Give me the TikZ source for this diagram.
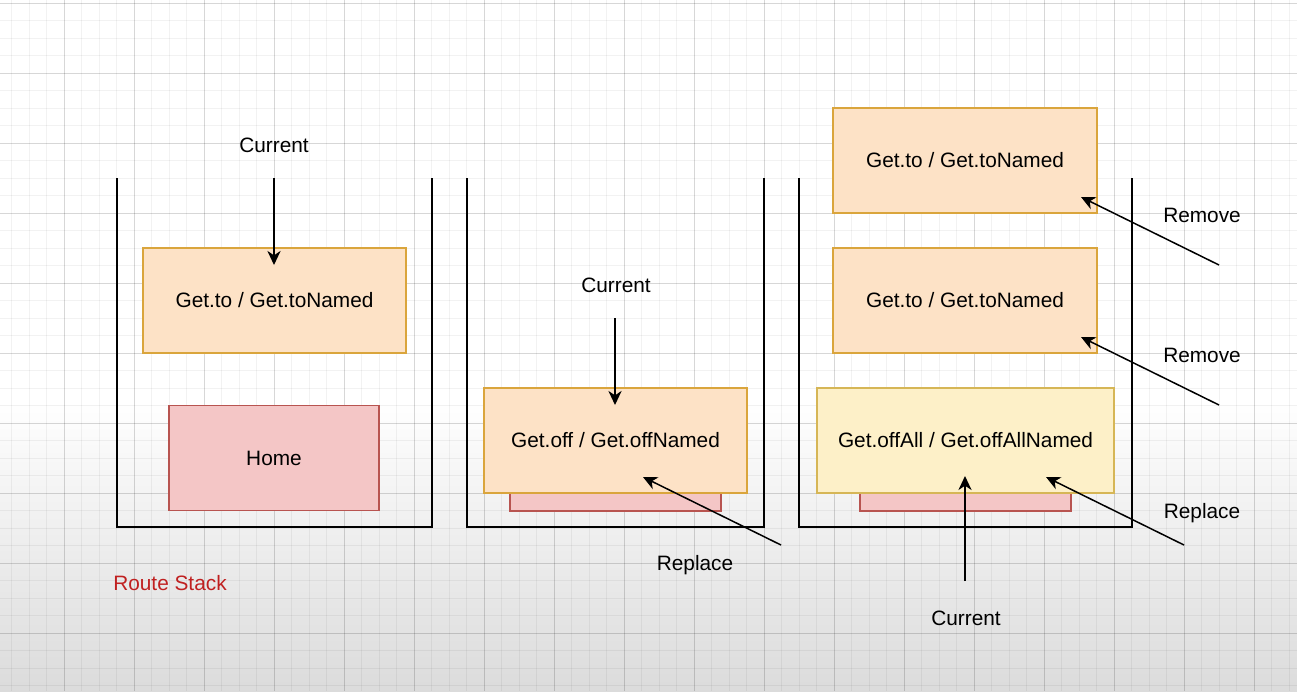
\documentclass[tikz,border=0pt]{standalone}
\usepackage{fontspec}
\setmainfont{Liberation Sans}
\usetikzlibrary{arrows.meta}
\definecolor{orangefill}{RGB}{253,226,198}
\definecolor{orangeline}{RGB}{218,165,60}
\definecolor{pinkfill}{RGB}{244,198,198}
\definecolor{pinkline}{RGB}{184,84,80}
\definecolor{yellowfill}{RGB}{253,240,200}
\definecolor{yellowline}{RGB}{214,182,86}
\definecolor{stackred}{RGB}{192,32,32}
\tikzset{
	route/.style={draw=#1line, fill=#1fill, line width=0.8pt, minimum height=2.1cm, inner sep=0pt},
	stack/.style={line width=1.1pt},
	push/.style={->, line width=0.85pt},
	gridline/.style={black, opacity=#1, line width=0.4pt},
}
\begin{document}
\begin{tikzpicture}[x=0.02cm, y=-0.02cm, font=\fontsize{11.85}{14}\selectfont, >={Stealth[length=8pt,width=7.5pt,inset=2.5pt]}]
		\useasboundingbox (0,0) rectangle (1297,691);
		\fill[white] (0,0) rectangle (1297,691);
		\shade[top color=white, bottom color=black!14] (0,400) rectangle (1297,691);
		\foreach \i in {0,...,73}{
		\draw[gridline=0.05] ({11.5+17.5*\i},0)--++(0,691);
		}
		\foreach \i in {0,...,39}{
		\draw[gridline=0.05] (0,{3.3+17.5*\i})--++(1297,0);
		}
		\foreach \i in {0,...,17}{
		\draw[gridline=0.11] ({64+70*\i},0)--++(0,691);
		}
		\foreach \i in {0,...,9}{
		\draw[gridline=0.11] (0,{3.3+70*\i})--++(1297,0);
		}
		\foreach \l/\r in {117/432, 467/764, 799/1132}{
		\draw[stack] (\l,178)--(\l,527)--(\r,527)--(\r,178);
		}
		\node[route=pink, minimum width=4.2cm] (home) at (274,458) {Home};
		\node[route=orange, minimum width=5.26cm] (to) at (274.5,300.5) {Get.to / Get.toNamed};
		\node[route=pink, minimum width=4.22cm] (home2) at (615.5,458.5) {};
		\node[route=orange, minimum width=5.26cm] (off) at (615.5,440.5) {Get.off / Get.offNamed};
		\node[route=pink, minimum width=4.22cm] (home3) at (965.5,458.5) {};
		\node[route=yellow, minimum width=5.94cm] (offall) at (965.5,440.5) {Get.offAll / Get.offAllNamed};
		\node[route=orange, minimum width=5.28cm] (totop) at (965,160.5) {Get.to / Get.toNamed};
		\node[route=orange, minimum width=5.28cm] (tomid) at (965,300.5) {Get.to / Get.toNamed};
		\path (274,178) coordinate (a1) (274,265) coordinate (b1)
			(615,318) coordinate (a2) (615,405) coordinate (b2)
			(781,545) coordinate (a3) (643,477) coordinate (b3)
			(965,581) coordinate (a4) (965,476) coordinate (b4)
			(1184,545) coordinate (a5) (1046,477) coordinate (b5)
			(1219,265) coordinate (a6) (1081,197) coordinate (b6)
			(1219,405) coordinate (a7) (1081,337) coordinate (b7);
		\foreach \x in {1,...,7}{
		\draw[push] (a\x)--(b\x);
		}
		\node (cur1) at (274,145) {Current};
		\node (cur2) at (616,285) {Current};
		\node (rep2) at (695,565) {Replace};
		\node (cur3) at (966,618) {Current};
		\node (rep3) at (1202,513) {Replace};
		\node (rem1) at (1202,215) {Remove};
		\node (rem2) at (1202,355) {Remove};
		\node[text=stackred] (title) at (170,583) {Route Stack};
	\end{tikzpicture}
\end{document}
